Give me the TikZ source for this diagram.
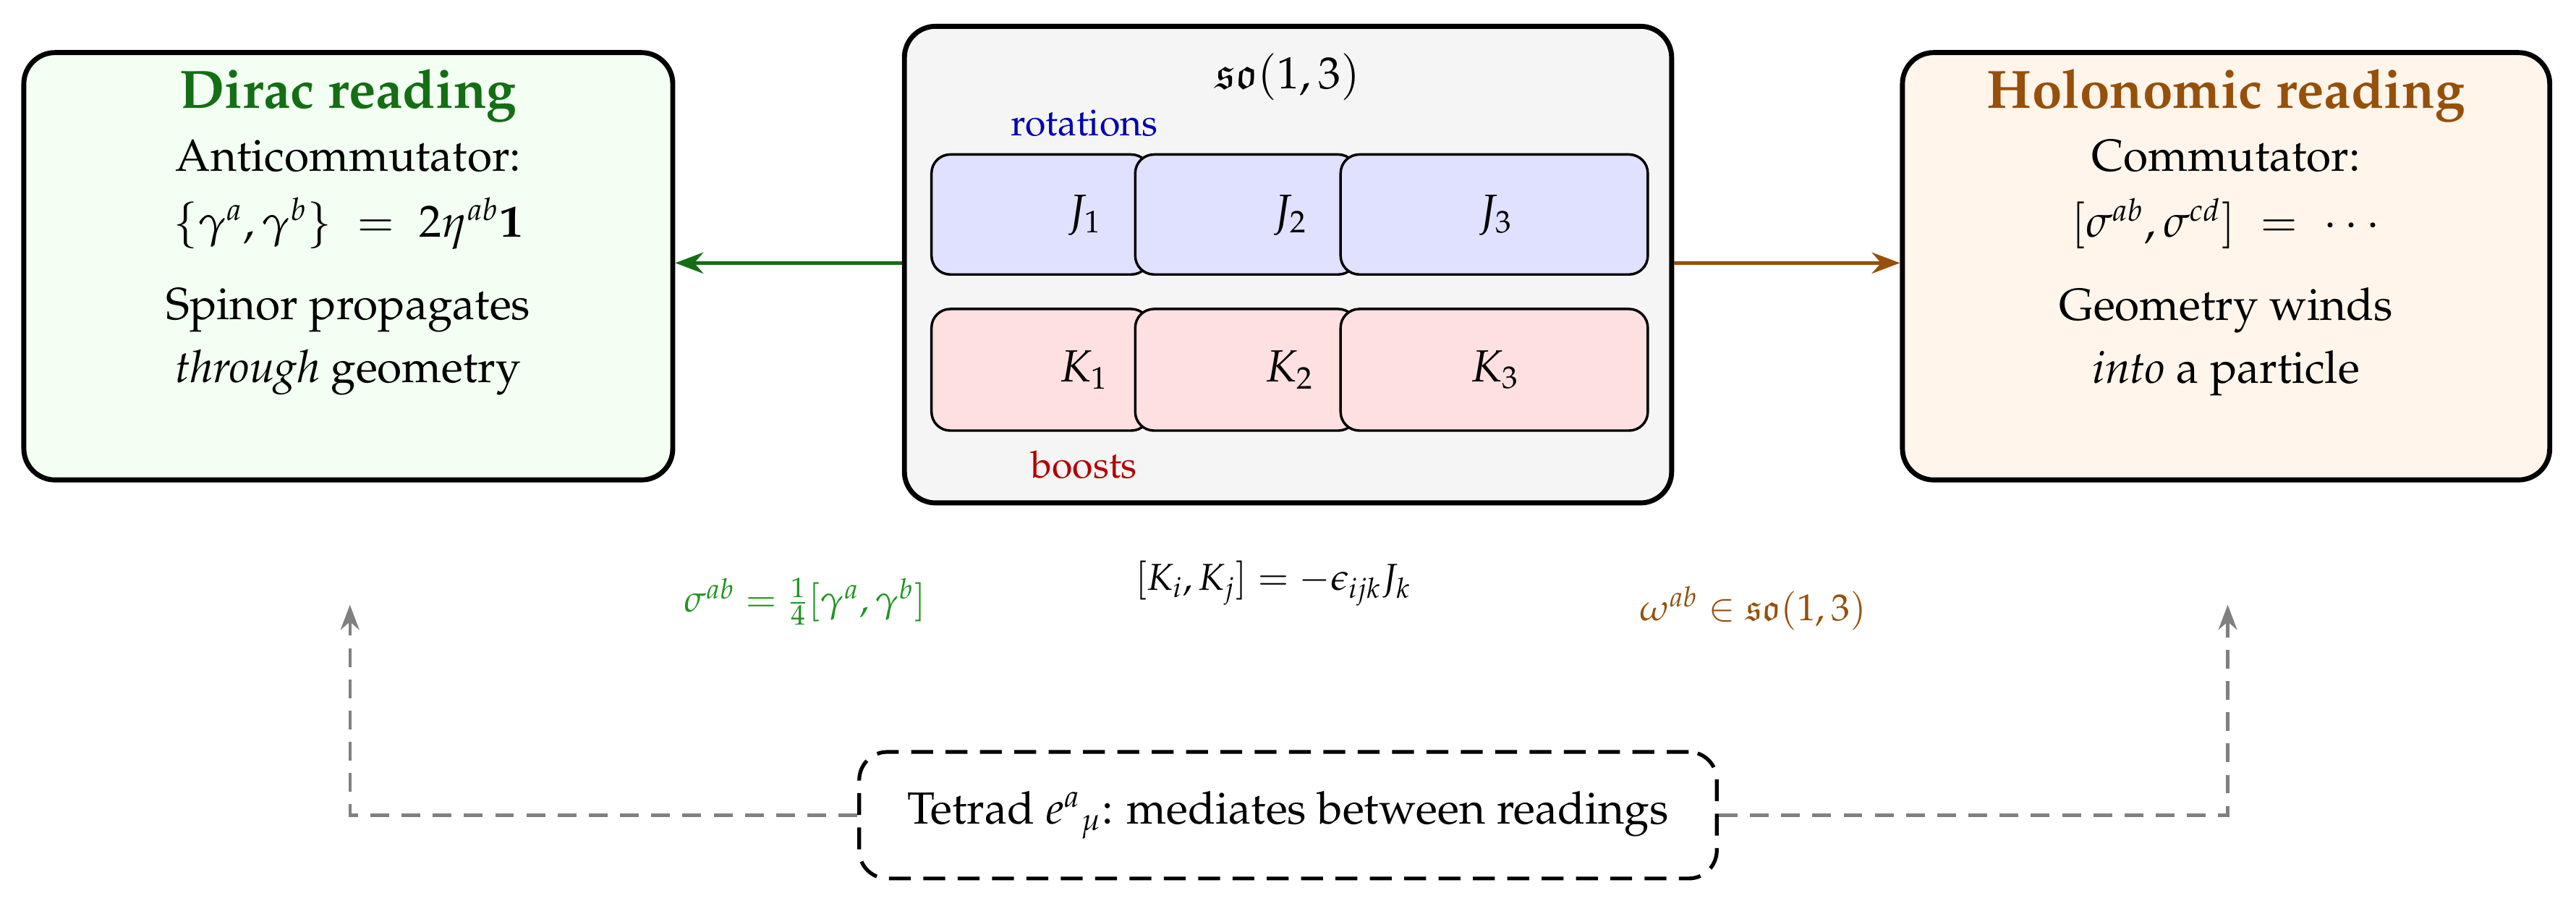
\documentclass[tikz,border=0pt]{standalone}
\usepackage[T1]{fontenc}
\usepackage{mathpazo}
\usepackage{amssymb}
\usetikzlibrary{arrows.meta}
\definecolor{dgreen}{RGB}{20,110,20}
\definecolor{lgreen}{RGB}{30,150,30}
\definecolor{dbrown}{RGB}{150,80,10}
\begin{document}
\begin{tikzpicture}[x=0.0185cm,y=-0.0185cm,
  panel/.style={draw,line width=1.6pt,rounded corners=10pt},
  gen/.style={draw,line width=0.8pt,rounded corners=6pt},
  link/.style={line width=1.2pt,-{Stealth[length=9pt]}},
  back/.style={gray,dash pattern=on 6pt off 4pt,line width=1pt,-{Stealth[length=8pt]}}]
\useasboundingbox (0,0) rectangle (1568,548);
% side panels
\node (dirac) [panel,fill=green!5,minimum width=395*0.0185cm,minimum height=260*0.0185cm] at (212,162) {};
\node (holo) [panel,fill=orange!8,minimum width=394*0.0185cm,minimum height=260*0.0185cm] at (1355,162) {};
\node (alg) [panel,fill=black!4,minimum width=467*0.0185cm,minimum height=290*0.0185cm] at (784,161) {};
\node (diractitle) at (212,58) {\LARGE\bfseries\color{dgreen}Dirac reading};
\node (dirac1) at (212,95) {\Large Anticommutator:};
\node (dirac2) at (212,136) {\Large $\{\gamma^a,\gamma^b\}\;=\;2\eta^{ab}\mathbf{1}$};
\node (dirac3) [align=center,font=\Large] at (212,208) {Spinor propagates\\[2pt]\emph{through} geometry};
\node (holotitle) at (1355,58) {\LARGE\bfseries\color{dbrown}Holonomic reading};
\node (holo1) at (1355,95) {\Large Commutator:};
\node (holo2) at (1355,136) {\Large $[\sigma^{ab},\sigma^{cd}]\;=\;\cdots$};
\node (holo3) [align=center,font=\Large] at (1355,208) {Geometry winds\\[2pt]\emph{into} a particle};
% generators
\node (algtitle) at (784,47) {\Large$\mathfrak{so}(1,3)$};
\node (rot) at (660,75) {\large\color{blue!70!black}rotations};
\node (boost) at (660,283) {\large\color{red!70!black}boosts};
\draw[gen,fill=blue!12] (567,94) rectangle (700,167);
\draw[gen,fill=blue!12] (691,94) rectangle (826,167);
\draw[gen,fill=blue!12] (816,94) rectangle (1003,167);
\draw[gen,fill=red!12] (567,188) rectangle (700,262);
\draw[gen,fill=red!12] (691,188) rectangle (826,262);
\draw[gen,fill=red!12] (816,188) rectangle (1003,262);
\node (j1) at (660,131) {\Large$J_1$};
\node (j2) at (785,131) {\Large$J_2$};
\node (j3) at (910,131) {\Large$J_3$};
\node (k1) at (660,225) {\Large$K_1$};
\node (k2) at (785,225) {\Large$K_2$};
\node (k3) at (910,225) {\Large$K_3$};
\draw[link,dgreen] (alg.west |- 0,160) -- (dirac.east |- 0,160);
\draw[link,dbrown] (alg.east |- 0,160) -- (holo.west |- 0,160);
% relations
\node (sig) at (490,366) {\large\color{lgreen}$\sigma^{ab}=\frac14[\gamma^a,\gamma^b]$};
\node (kk) at (775,355) {\large$[K_i,K_j]=-\epsilon_{ijk}J_k$};
\node (om) at (1067,370) {\large\color{dbrown}$\omega^{ab}\in\mathfrak{so}(1,3)$};
% tetrad
\node (tetrad) [draw,dash pattern=on 7pt off 4pt,line width=1.2pt,rounded corners=9pt,minimum width=522*0.0185cm,minimum height=77*0.0185cm] at (784,496) {\Large Tetrad $e^a{}_\mu$: mediates between readings};
\coordinate (lup) at (213,368);
\coordinate (rup) at (1356,368);
\draw[back] (tetrad.west) -| (lup);
\draw[back] (tetrad.east) -| (rup);
\end{tikzpicture}
\end{document}
